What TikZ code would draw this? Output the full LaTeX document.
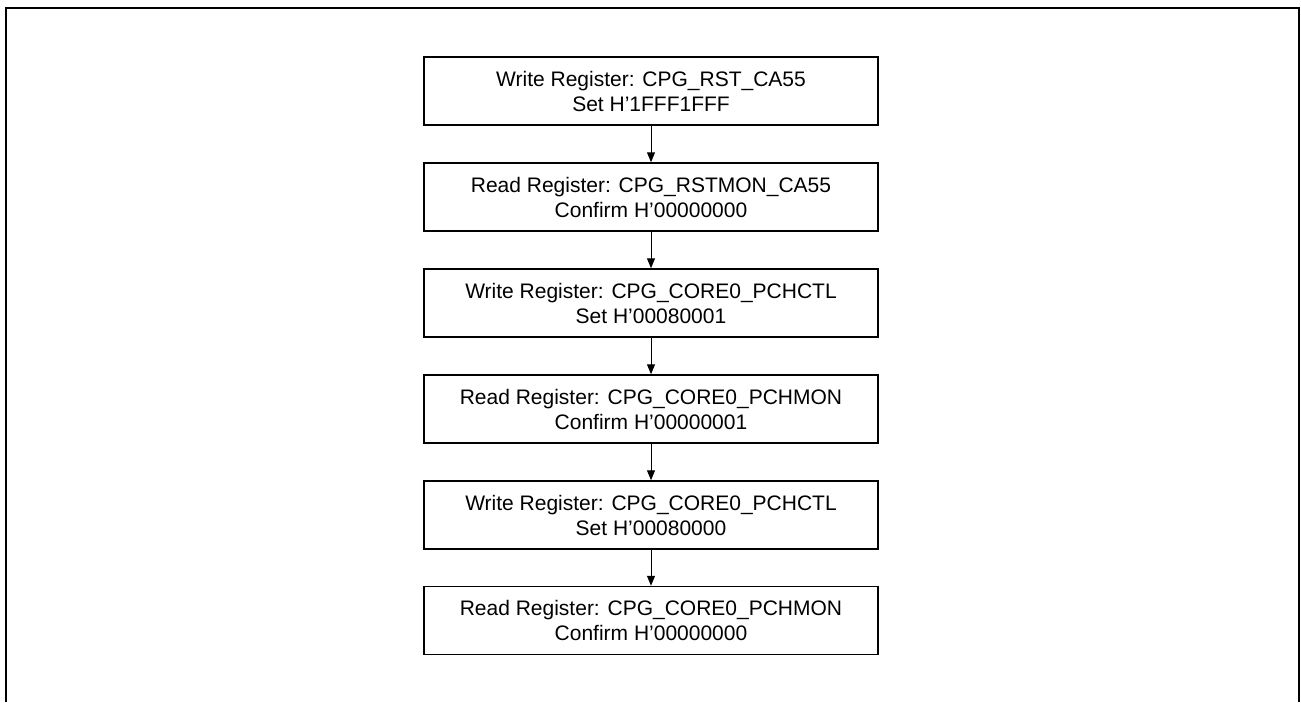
\documentclass[tikz,border=0pt]{standalone}
\usepackage{fontspec}
\setmainfont{Liberation Sans}
\usetikzlibrary{arrows.meta}
\begin{document}
\begin{tikzpicture}[x=1pt,y=-1pt,
  stepbox/.style={draw, line width=1.5pt, minimum width=454pt, minimum height=68pt, align=center, inner sep=0pt, font=\fontsize{21}{25}\selectfont},
  flow/.style={line width=1pt, -{Triangle[length=10pt,width=8pt]}}]
\useasboundingbox (0,0) rectangle (1301,702);
\draw[line width=2pt] (6,702) -- (6,8) -- (1299,8) -- (1299,702);
\node[stepbox] (b1) at (651,91) {Write Register: CPG\_RST\_CA55\\Set H’1FFF1FFF};
\node[stepbox] (b2) at (651,197) {Read Register: CPG\_RSTMON\_CA55\\Confirm H’00000000};
\node[stepbox] (b3) at (651,303) {Write Register: CPG\_CORE0\_PCHCTL\\Set H’00080001};
\node[stepbox] (b4) at (651,409) {Read Register: CPG\_CORE0\_PCHMON\\Confirm H’00000001};
\node[stepbox] (b5) at (651,515) {Write Register: CPG\_CORE0\_PCHCTL\\Set H’00080000};
\node[stepbox] (b6) at (651,620.5) {Read Register: CPG\_CORE0\_PCHMON\\Confirm H’00000000};
\foreach \a/\b in {b1/b2,b2/b3,b3/b4,b4/b5,b5/b6}
  \draw[flow] (\a) -- (\b);
\end{tikzpicture}
\end{document}
